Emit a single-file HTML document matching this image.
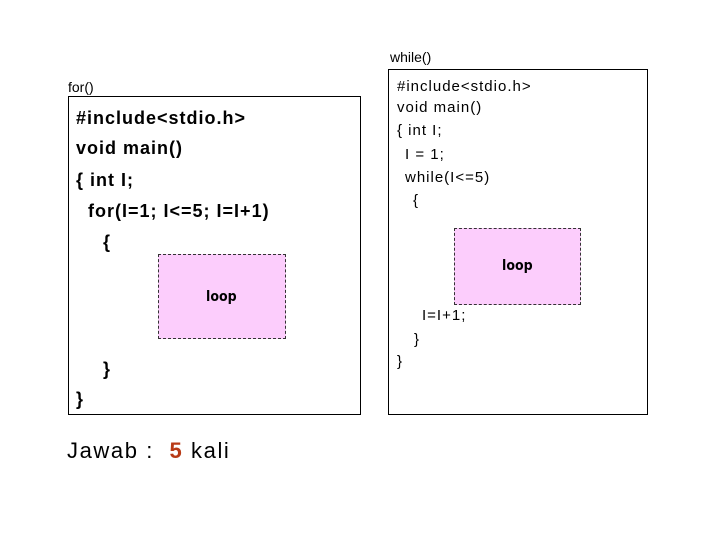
<!DOCTYPE html>
<html><head><style>
body{margin:0;width:720px;height:540px;background:#fff;position:relative;font-family:"Liberation Sans",sans-serif;overflow:hidden}
.t{position:absolute;white-space:pre;line-height:1;color:#000}
.b{font-weight:bold;font-size:18px;letter-spacing:1px}
.r{font-size:15px;letter-spacing:1px}
.box{position:absolute;border:1px solid #000;background:#fff}
.pk{position:absolute;background:#fccdfc;border:1px dashed #333}
.lp{position:absolute;font-weight:bold;font-size:14px;font-family:"DejaVu Sans Condensed","Liberation Sans",sans-serif}
</style></head><body>
<div class="t" style="left:390px;top:50px;font-size:14px">while()</div>
<div class="t" style="left:68px;top:80px;font-size:14px">for()</div>
<div class="box" style="left:68px;top:96px;width:291px;height:317px"></div>
<div class="box" style="left:388px;top:69px;width:258px;height:344px"></div>
<div class="pk" style="left:158px;top:254px;width:126px;height:83px"></div>
<div class="pk" style="left:454px;top:228px;width:125px;height:75px"></div>
<div class="lp" style="left:206px;top:289px">loop</div>
<div class="lp" style="left:502px;top:258px">loop</div>
<div class="t b" style="left:76px;top:109px">#include&lt;stdio.h&gt;</div>
<div class="t b" style="left:76px;top:139px">void main()</div>
<div class="t b" style="left:76px;top:171px">{ int I;</div>
<div class="t b" style="left:76px;top:202px">  for(I=1; I&lt;=5; I=I+1)</div>
<div class="t b" style="left:103px;top:233px">{</div>
<div class="t b" style="left:103px;top:360px">}</div>
<div class="t b" style="left:76px;top:390px">}</div>
<div class="t r" style="left:397px;top:79px">#include&lt;stdio.h&gt;</div>
<div class="t r" style="left:397px;top:100px">void main()</div>
<div class="t r" style="left:397px;top:123px">{ int I;</div>
<div class="t r" style="left:405px;top:147px">I = 1;</div>
<div class="t r" style="left:405px;top:170px">while(I&lt;=5)</div>
<div class="t r" style="left:413px;top:193px">{</div>
<div class="t r" style="left:422px;top:308px">I=I+1;</div>
<div class="t r" style="left:414px;top:332px">}</div>
<div class="t r" style="left:397px;top:354px">}</div>
<div class="t" style="left:67px;top:440px;font-size:22px;letter-spacing:1.6px">Jawab :  <span style="color:#b83a16;font-weight:bold">5</span> kali</div>
</body></html>
